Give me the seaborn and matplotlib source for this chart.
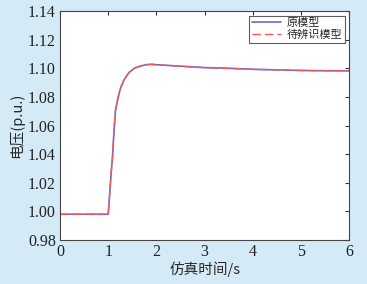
import numpy as np
import pandas as pd
import matplotlib
matplotlib.use('Agg')
import matplotlib.pyplot as plt
import seaborn as sns

sns.set_style('white')
plt.rcParams['font.family'] = ['Liberation Serif', 'Noto Sans CJK SC']

# time (s) and voltage (p.u.)
t = [0.0, 0.5, 1.0, 1.03, 1.06, 1.09, 1.12, 1.15, 1.2, 1.26, 1.33, 1.43, 1.55,
     1.67, 1.8, 1.9, 2.0, 2.5, 3.0, 3.5, 4.0, 4.5, 5.0, 5.5, 6.0]
v_orig = [0.998, 0.998, 0.998, 1.012, 1.026, 1.038, 1.056, 1.070, 1.079, 1.0866,
          1.092, 1.097, 1.1002, 1.1016, 1.1026, 1.1028, 1.1025, 1.1015, 1.1005,
          1.1, 1.0993, 1.0989, 1.0985, 1.0983, 1.0982]
v_ident = [0.998, 0.998, 0.998, 1.012, 1.027, 1.039, 1.057, 1.071, 1.079, 1.0865,
           1.092, 1.097, 1.1001, 1.1016, 1.1025, 1.1027, 1.1025, 1.1014, 1.1004,
           1.1, 1.0993, 1.0989, 1.0985, 1.0983, 1.0982]

bg = '#d5eaf7'
fig = plt.figure(figsize=(3.67, 2.84), dpi=100, facecolor=bg)
ax = fig.add_axes([0.1635, 0.155, 0.788, 0.806])

sns.lineplot(x=t, y=v_orig, ax=ax, color='#6a6ad0', lw=1.2, label='原模型')
sns.lineplot(x=t, y=v_ident, ax=ax, color='#ff5555', lw=1.0, ls=(0, (6, 3)), label='待辨识模型')

ax.set_xlim(0, 6)
ax.set_ylim(0.98, 1.14)
ax.set_xticks(range(0, 7))
ax.set_yticks(np.arange(0.98, 1.141, 0.02))
ax.set_yticklabels([f'{y:.2f}' for y in np.arange(0.98, 1.141, 0.02)])
ax.tick_params(direction='in', length=3, labelsize=11.5, top=True, right=True,
               colors='#333333', labelcolor='#222222', pad=3)
for s in ax.spines.values():
    s.set_color('#444444')
    s.set_linewidth(0.8)

ax.set_xlabel('仿真时间/s', fontsize=10.5, family=['Noto Sans CJK SC'], labelpad=1)
ax.set_ylabel('电压(p.u.)', fontsize=10.5, family=['Noto Sans CJK SC'], labelpad=3)

leg = ax.legend(loc='upper right', frameon=True, fancybox=False,
                handlelength=2.6, handletextpad=0.5, borderpad=0.25, labelspacing=0.15,
                borderaxespad=0.4, prop={'family': ['Noto Sans CJK SC'], 'size': 8})
leg.get_frame().set_edgecolor('#333333')
leg.get_frame().set_linewidth(0.8)

fig.savefig('out.png', dpi=100, facecolor=bg)
